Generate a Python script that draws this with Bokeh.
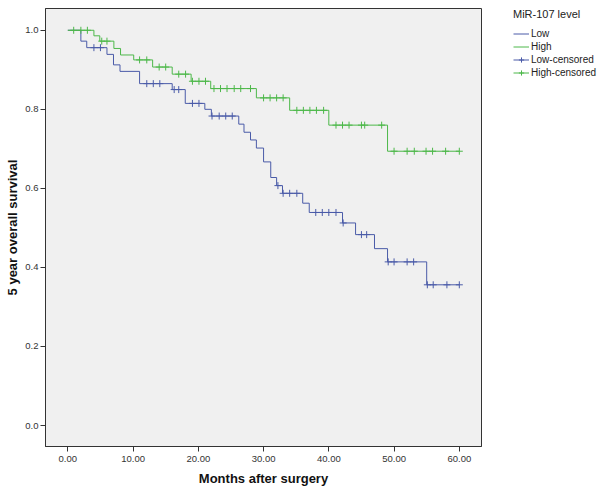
from bokeh.plotting import figure
from bokeh.layouts import row
from bokeh.models import Range1d, Legend, LegendItem, FixedTicker, NumeralTickFormatter
from bokeh.embed import file_html
from bokeh.resources import INLINE

# ---------------- data ----------------
low_event_months = [0, 2.0, 2.9, 6.0, 7.0, 8.0, 11.0, 16.0, 18.0, 21.0, 22.0, 26.2, 27.0,
                    28.0, 28.9, 30.0, 31.1, 32.0, 32.9, 36.0, 37.0, 42.1, 44.1, 47.0, 49.0, 55.0]
low_survival = [1.0, 0.9725, 0.956, 0.939, 0.9125, 0.896, 0.865, 0.85, 0.815, 0.80, 0.783, 0.7625, 0.742,
                0.7225, 0.702, 0.667, 0.6275, 0.607, 0.5875, 0.5625, 0.539, 0.5125, 0.483, 0.4475, 0.414, 0.356]
low_censor_months = [4.0, 5.0, 12.1, 13.1, 14.1, 16.3, 17.0, 19.1, 20.1, 22.1, 23.2, 24.2, 25.2,
                     32.2, 33.0, 34.0, 35.1, 38.0, 39.0, 40.0, 41.1, 42.2, 45.0, 45.8,
                     49.1, 50.0, 52.0, 53.0, 55.1, 56.0, 58.1, 60.0]

high_event_months = [0, 4.0, 4.9, 7.06, 8.08, 10.1, 13.0, 16.0, 18.9, 21.9, 28.9, 34.0, 40.0, 49.0]
high_survival = [1.0, 0.986, 0.9725, 0.954, 0.9375, 0.925, 0.907, 0.889, 0.871, 0.8525, 0.829,
                 0.7975, 0.76, 0.694]
high_censor_months = [0.9, 2.0, 3.0, 5.2, 6.0, 11.0, 12.1, 14.0, 15.0, 17.0, 18.05, 19.1, 20.1, 21.1,
                      22.4, 23.4, 24.4, 25.5, 26.5, 28.0, 30.0, 31.0, 32.0, 33.0,
                      35.1, 36.1, 37.1, 38.1, 39.2, 41.1, 42.1, 43.1, 45.0, 45.5, 48.1,
                      50.0, 52.0, 53.1, 54.9, 55.9, 57.9, 60.0]

end_month = 60
x_ticks = [0, 10, 20, 30, 40, 50, 60]
y_ticks = [0.0, 0.2, 0.4, 0.6, 0.8, 1.0]

legend_title = "MiR-107 level"
legend_labels = ["Low", "High", "Low-censored", "High-censored"]
x_title = "Months after surgery"
y_title = "5 year overall survival"

LOW_COLOR = "#4A5BA8"
HIGH_COLOR = "#4DB84A"


def surv_at(times, surv, t):
    s = surv[0]
    for tt, ss in zip(times, surv):
        if tt <= t:
            s = ss
    return s


groups = [("Low", low_event_months, low_survival, low_censor_months, LOW_COLOR),
          ("High", high_event_months, high_survival, high_censor_months, HIGH_COLOR)]

# ---------------- main plot ----------------
p = figure(width=482, height=493,
           x_range=Range1d(-3.42, 63.4), y_range=Range1d(-0.0531, 1.0551),
           output_backend="svg", toolbar_location=None,
           min_border_left=45, min_border_right=1, min_border_top=3, min_border_bottom=47)

p.background_fill_color = "#F0F0F0"
p.border_fill_color = "white"
p.outline_line_color = "#333333"
p.outline_line_width = 1
p.xgrid.visible = False
p.ygrid.visible = False

for name, times, surv, cens, color in groups:
    xs = list(times) + [end_month]
    ys = list(surv) + [surv[-1]]
    p.step(xs, ys, mode="after", line_color=color, line_width=1)
    cy = [surv_at(times, surv, t) for t in cens]
    p.scatter(cens, cy, marker="cross", size=7, line_color=color, line_width=1)

for ax in (p.xaxis[0], p.yaxis[0]):
    ax.axis_line_color = "#333333"
    ax.major_tick_line_color = "#333333"
    ax.major_tick_out = 5
    ax.major_tick_in = 0
    ax.minor_tick_line_color = None
    ax.major_label_text_font = "Liberation Sans"
    ax.major_label_text_font_size = "9.5px"
    ax.major_label_text_color = "#333333"
    ax.axis_label_text_font = "Liberation Sans"
    ax.axis_label_text_font_style = "bold"
    ax.axis_label_text_font_size = "13px"
    ax.axis_label_text_color = "#111111"

p.xaxis[0].ticker = FixedTicker(ticks=x_ticks)
p.xaxis[0].formatter = NumeralTickFormatter(format="0.00")
p.xaxis[0].axis_label = x_title
p.xaxis[0].major_label_standoff = 4
p.xaxis[0].axis_label_standoff = 6

p.yaxis[0].ticker = FixedTicker(ticks=y_ticks)
p.yaxis[0].formatter = NumeralTickFormatter(format="0.0")
p.yaxis[0].axis_label = y_title
p.yaxis[0].major_label_standoff = 2
p.yaxis[0].axis_label_standoff = 2

# ---------------- legend panel ----------------
lg = figure(width=118, height=493, output_backend="svg", toolbar_location=None,
            x_axis_location=None, y_axis_location=None,
            min_border_left=31, min_border_right=0, min_border_top=8, min_border_bottom=0)
lg.outline_line_color = None
lg.xgrid.visible = False
lg.ygrid.visible = False
lg.background_fill_color = "white"
lg.border_fill_color = "white"

legend_renderers = []
for name, times, surv, cens, color in groups:
    r_line = lg.step(times, surv, mode="after", line_color=color, line_width=1)
    r_line.visible = False
    r_cross = lg.scatter(cens[:1], surv[:1], marker="cross", size=9, line_color=color, line_width=1)
    r_cross.visible = False
    legend_renderers.append((r_line, r_cross))

items = [
    LegendItem(label=legend_labels[0], renderers=[legend_renderers[0][0]]),
    LegendItem(label=legend_labels[1], renderers=[legend_renderers[1][0]]),
    LegendItem(label=legend_labels[2], renderers=[legend_renderers[0][0], legend_renderers[0][1]]),
    LegendItem(label=legend_labels[3], renderers=[legend_renderers[1][0], legend_renderers[1][1]]),
]
legend = Legend(items=items, location="top_left", title=legend_title,
                title_text_font="Liberation Sans", title_text_font_size="11px",
                title_text_font_style="normal", title_text_color="#222222",
                title_standoff=7,
                label_text_font="Liberation Sans", label_text_font_size="10px",
                label_text_color="#222222",
                glyph_width=16, glyph_height=13, label_height=13, label_standoff=2,
                spacing=0, padding=0, margin=0,
                border_line_color=None, background_fill_alpha=0)
lg.add_layout(legend, "center")

layout = row(p, lg)
open("out.html", "w").write(file_html(layout, INLINE))
